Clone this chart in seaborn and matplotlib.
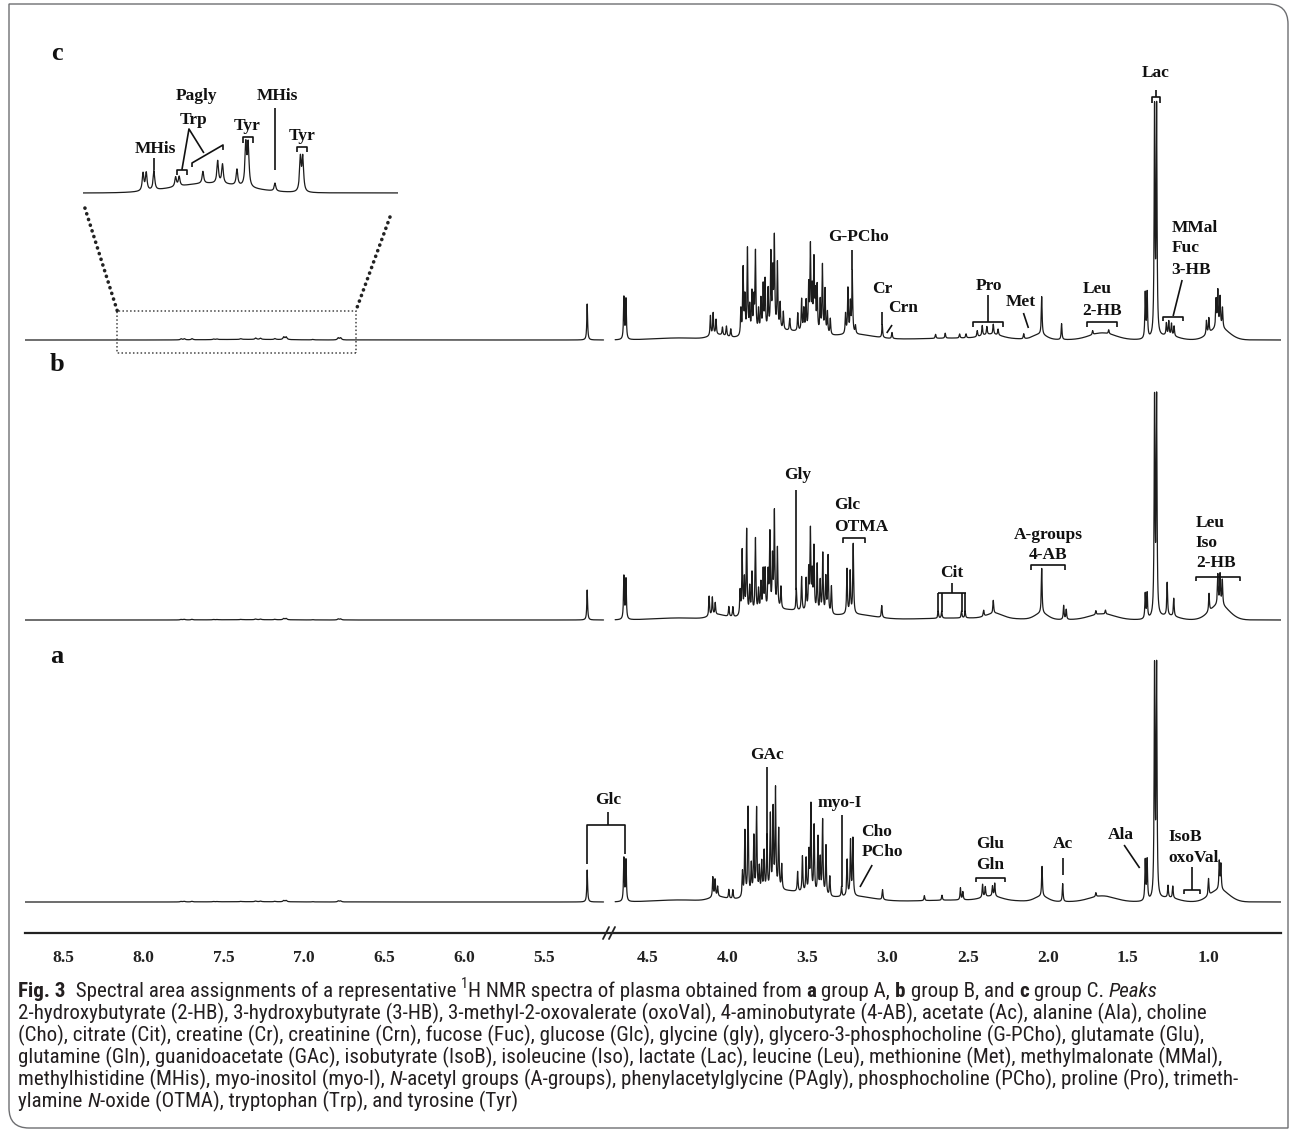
import numpy as np
import seaborn as sns
import matplotlib
matplotlib.use("Agg")
import matplotlib.pyplot as plt
from matplotlib.patches import Rectangle, ConnectionPatch, PathPatch
from matplotlib.path import Path
from matplotlib.transforms import Affine2D
from matplotlib.lines import Line2D
from matplotlib.ticker import FixedLocator
from matplotlib import font_manager

# ---- data: peak lists (ppm, height in a.u., half width) ----
# group C
c_shift = [5.232, 4.645, 4.632, 4.105, 4.088, 4.070, 4.030, 4.005, 3.978,
           3.915, 3.901, 3.890, 3.874, 3.860, 3.846, 3.834, 3.824, 3.805, 3.790,
           3.776, 3.764, 3.745, 3.728, 3.716, 3.706, 3.687, 3.670, 3.650, 3.610,
           3.560, 3.536, 3.522, 3.508, 3.492, 3.481, 3.470, 3.459, 3.450, 3.439,
           3.420, 3.406, 3.390, 3.375, 3.357, 3.262, 3.247, 3.232, 3.220, 3.200,
           3.033, 2.972, 2.700, 2.640, 2.550, 2.510, 2.440, 2.409, 2.380, 2.340,
           2.310, 2.150, 2.038, 1.914, 1.720, 1.620, 1.392, 1.380, 1.334, 1.321,
           1.260, 1.245, 1.228, 1.212, 1.010, 0.995, 0.950, 0.939, 0.925, 0.910]
c_height = [36, 42, 40, 20, 22, 15, 8, 10, 8,
            26, 66, 36, 85, 26, 40, 32, 80, 22, 32,
            45, 50, 40, 75, 55, 90, 66, 26, 18, 12,
            18, 32, 22, 30, 45, 84, 40, 70, 36, 46,
            32, 68, 44, 22, 16, 20, 45, 30, 62, 8,
            13, 6, 4, 5, 4, 4, 6, 10, 8, 10,
            6, 5, 38, 16, 4, 4, 45, 45, 225, 225,
            12, 14, 12, 10, 14, 15, 28, 36, 30, 20]
c_width = [0.003] * len(c_shift)
c_hump_shift = [4.30, 4.06, 3.65, 3.20, 2.50, 2.35, 2.05, 1.66, 1.25, 0.93]
c_hump_height = [2, 4, 9, 5, 2, 4, 5, 7, 4, 12]
c_hump_sigma = [0.15, 0.05, 0.17, 0.12, 0.30, 0.06, 0.04, 0.08, 0.06, 0.06]

# aromatic region of group C (enlarged in the inset)
arom_shift = [7.765, 7.745, 7.697, 7.562, 7.540, 7.392, 7.300, 7.270, 7.180,
              7.125, 7.110, 6.943, 6.785, 6.770]
arom_height = [1.1, 1.1, 1.2, 0.6, 0.6, 0.75, 1.4, 1.2, 1.0,
               2.6, 2.6, 0.5, 2.1, 2.1]
arom_width = [0.006] * len(arom_shift)
arom_hump_shift = [7.35]
arom_hump_height = [0.6]
arom_hump_sigma = [0.22]

# group B
b_shift = [5.232, 4.645, 4.632, 4.113, 4.093, 4.075, 3.990, 3.965,
           3.920, 3.907, 3.893, 3.879, 3.860, 3.846, 3.824, 3.805, 3.790, 3.776,
           3.764, 3.745, 3.734, 3.718, 3.706, 3.687, 3.665, 3.569,
           3.536, 3.508, 3.492, 3.481, 3.470, 3.459, 3.439, 3.420, 3.404, 3.385,
           3.371, 3.350, 3.253, 3.233, 3.214, 3.036,
           2.684, 2.662, 2.538, 2.516, 2.400, 2.340, 2.038, 1.901, 1.885,
           1.700, 1.640, 1.392, 1.380, 1.334, 1.321, 1.255, 1.214,
           0.994, 0.939, 0.925, 0.911]
b_height = [30, 43, 40, 20, 18, 12, 10, 10,
            24, 64, 34, 84, 26, 40, 74, 22, 28, 40,
            40, 36, 75, 50, 96, 60, 22, 22,
            34, 32, 40, 80, 36, 64, 48, 32, 60, 36,
            58, 28, 45, 42, 70, 12,
            7, 7, 7, 7, 6, 13, 45, 14, 10,
            4, 4, 25, 25, 215, 215, 33, 18,
            18, 30, 30, 25]
b_width = [0.003] * len(b_shift)
b_hump_shift = [4.30, 4.06, 3.65, 3.20, 2.50, 2.33, 2.04, 1.66, 1.25, 0.93]
b_hump_height = [2, 4, 10, 5, 2, 5, 6, 6, 4, 15]
b_hump_sigma = [0.15, 0.05, 0.17, 0.12, 0.30, 0.05, 0.04, 0.08, 0.06, 0.06]

# group A
a_shift = [5.232, 4.645, 4.632, 4.090, 4.076, 4.060, 3.990, 3.965,
           3.905, 3.890, 3.870, 3.850, 3.834, 3.817, 3.800, 3.785, 3.770,
           3.752, 3.731, 3.714, 3.699, 3.679, 3.660,
           3.561, 3.531, 3.508, 3.490, 3.478, 3.458, 3.434, 3.420, 3.405, 3.384,
           3.360, 3.287, 3.252, 3.231, 3.216, 3.031,
           2.770, 2.660, 2.545, 2.530, 2.407, 2.390, 2.345, 2.331, 2.036, 1.907,
           1.700, 1.392, 1.380, 1.334, 1.321, 1.250, 1.220,
           0.997, 0.930, 0.920]
a_height = [32, 43, 41, 20, 17, 10, 9, 9,
            25, 65, 88, 30, 57, 85, 25, 30, 40,
            55, 75, 80, 100, 60, 25,
            20, 36, 34, 40, 88, 68, 57, 35, 75, 50,
            20, 10, 36, 55, 57, 10,
            5, 5, 12, 8, 13, 10, 10, 13, 30, 18,
            4, 40, 40, 228, 228, 12, 12,
            17, 28, 25]
a_width = [0.003] * len(a_shift)
a_hump_shift = [4.30, 4.06, 3.65, 3.20, 2.50, 2.35, 2.04, 1.66, 1.25, 0.93]
a_hump_height = [2, 4, 11, 5, 2, 4, 5, 6, 4, 12]
a_hump_sigma = [0.15, 0.05, 0.17, 0.12, 0.30, 0.06, 0.04, 0.08, 0.06, 0.06]

major_ticks = [8.5, 8.0, 7.5, 7.0, 6.5, 6.0, 5.5, 4.5, 4.0, 3.5, 3.0, 2.5, 2.0, 1.5, 1.0]
minor_ticks = [8.25, 7.75, 7.25, 6.75, 6.25, 5.75, 5.25, 4.25, 3.75, 3.25, 2.75,
               2.25, 1.75, 1.25, 0.75]

# caption, as (text, style) pieces: "" plain, "b" bold, "i" italic, "sup" superscript
caption_lines = [
    [("Fig. 3", "b"), ("  Spectral area assignments of a representative ", ""), ("1", "sup"),
     ("H NMR spectra of plasma obtained from ", ""), ("a", "b"), (" group A, ", ""),
     ("b", "b"), (" group B, and ", ""), ("c", "b"), (" group C. ", ""), ("Peaks", "i")],
    [("2-hydroxybutyrate (2-HB), 3-hydroxybutyrate (3-HB), 3-methyl-2-oxovalerate (oxoVal), 4-aminobutyrate (4-AB), acetate (Ac), alanine (Ala), choline", "")],
    [("(Cho), citrate (Cit), creatine (Cr), creatinine (Crn), fucose (Fuc), glucose (Glc), glycine (gly), glycero-3-phosphocholine (G-PCho), glutamate (Glu),", "")],
    [("glutamine (Gln), guanidoacetate (GAc), isobutyrate (IsoB), isoleucine (Iso), lactate (Lac), leucine (Leu), methionine (Met), methylmalonate (MMal),", "")],
    [("methylhistidine (MHis), myo-inositol (myo-I), ", ""), ("N", "i"),
     ("-acetyl groups (A-groups), phenylacetylglycine (PAgly), phosphocholine (PCho), proline (Pro), trimeth-", "")],
    [("ylamine ", ""), ("N", "i"), ("-oxide (OTMA), tryptophan (Trp), and tyrosine (Tyr)", "")],
]

# ---- style ----
sns.set_style("white")
fonts = {(f.name, f.stretch) for f in font_manager.fontManager.ttflist}
names = {n for n, _ in fonts}
cap_font, cap_stretch = "Open Sans", "normal"
for cand in ("Liberation Sans Narrow", "Roboto Condensed", "Open Sans Condensed"):
    if cand in names:
        cap_font = cand
        break
else:
    if ("DejaVu Sans", "condensed") in fonts:
        cap_font, cap_stretch = "DejaVu Sans", "condensed"
serif = "Liberation Serif"
plt.rcParams["font.family"] = [serif, "DejaVu Sans"]

W, H = 1293, 1132
fig = plt.figure(figsize=(W / 100, H / 100), dpi=100)
tpx = Affine2D().scale(1 / W, -1 / H).translate(0, 1) + fig.transFigure
renderer = fig.canvas.get_renderer()


def rect(x0, y0, x1, y1):
    return [x0 / W, 1 - y1 / H, (x1 - x0) / W, (y1 - y0) / H]


# broken ppm axis: the water region is cut out
LO, HI = 4.737, 5.095


def fwd(x):
    x = np.asarray(x, float)
    return np.where(x <= LO, x, np.where(x >= HI, x - (HI - LO), LO))


def inv(u):
    u = np.asarray(u, float)
    return np.where(u <= LO, u, u + (HI - LO))


ppm = np.linspace(0.545, 8.74, 26000)


def spectrum(shift, height, width, hshift, hheight, hsigma):
    y = np.zeros_like(ppm)
    for p, h, w in zip(shift, height, width):
        y += h / (1 + ((ppm - p) / w) ** 2)
    for p, h, s in zip(hshift, hheight, hsigma):
        y += h * np.exp(-0.5 * ((ppm - p) / s) ** 2)
    return y


arom = spectrum(arom_shift, arom_height, arom_width,
                arom_hump_shift, arom_hump_height, arom_hump_sigma)
spec_c = spectrum(c_shift, c_height, c_width, c_hump_shift, c_hump_height, c_hump_sigma) + arom
spec_b = spectrum(b_shift, b_height, b_width, b_hump_shift, b_hump_height, b_hump_sigma) + 0.5 * arom
spec_a = spectrum(a_shift, a_height, a_width, a_hump_shift, a_hump_height, a_hump_sigma) + 0.5 * arom

LINE = "#1c1c1c"


def panel(y0, y1, base, spec):
    ax = fig.add_axes(rect(25, y0, 1281, y1))
    ax.patch.set_alpha(0)
    for m in (ppm <= 4.70, ppm >= 5.13):
        sns.lineplot(x=ppm[m], y=spec[m], ax=ax, color=LINE, lw=0.9,
                     estimator=None, sort=False)
    ax.set_xscale("function", functions=(fwd, inv))
    ax.set_xlim(8.74, 0.545)
    ax.set_ylim(-(y1 - base), base - y0)
    ax.axis("off")
    return ax


ax_c = panel(40, 356, 340, spec_c)
ax_b = panel(356, 636, 620, spec_b)
ax_a = panel(636, 920, 902, spec_a)

LW = 1.2


def lab(ax, x, y, s, ha="center", size=12.5):
    ax.text(x, y, s, ha=ha, va="center", fontsize=size, fontweight="bold",
            family=serif, color="#111111", clip_on=False)


def seg(ax, pts):
    xs, ys = zip(*pts)
    ax.plot(xs, ys, color="#111111", lw=LW, clip_on=False, solid_capstyle="butt")


def bracket(ax, x0, x1, y, d):
    seg(ax, [(x0, y - d), (x0, y), (x1, y), (x1, y - d)])


# ---- panel c labels ----
lab(ax_c, 3.18, 103, "G-PCho"); seg(ax_c, [(3.22, 70), (3.22, 90)])
lab(ax_c, 3.036, 51, "Cr"); seg(ax_c, [(3.033, 15), (3.033, 28)])
lab(ax_c, 2.904, 32, "Crn"); seg(ax_c, [(2.972, 15), (3.005, 7)])
lab(ax_c, 2.368, 54, "Pro"); seg(ax_c, [(2.374, 18), (2.374, 45)])
bracket(ax_c, 2.469, 2.280, 18, 5)
lab(ax_c, 2.171, 38, "Met"); seg(ax_c, [(2.152, 27), (2.121, 12)])
lab(ax_c, 1.69, 51, "Leu"); lab(ax_c, 1.66, 29, "2-HB")
bracket(ax_c, 1.753, 1.567, 18, 5)
lab(ax_c, 1.33, 267, "Lac")
bracket(ax_c, 1.352, 1.303, 243, 6); seg(ax_c, [(1.327, 243), (1.327, 250)])
lab(ax_c, 1.23, 112, "MMal", ha="left")
lab(ax_c, 1.23, 92, "Fuc", ha="left")
lab(ax_c, 1.23, 70, "3-HB", ha="left")
seg(ax_c, [(1.162, 60), (1.218, 24)])
bracket(ax_c, 1.280, 1.156, 23, 4)

# ---- panel b labels ----
lab(ax_b, 3.563, 145, "Gly"); seg(ax_b, [(3.569, 30), (3.569, 130)])
lab(ax_b, 3.335, 115, "Glc", ha="left"); lab(ax_b, 3.335, 93, "OTMA", ha="left")
bracket(ax_b, 3.275, 3.143, 82, 5)
lab(ax_b, 2.601, 47, "Cit"); seg(ax_b, [(2.597, 27), (2.597, 37)])
seg(ax_b, [(2.684, 27), (2.511, 27)])
for x in (2.684, 2.662, 2.538, 2.516):
    seg(ax_b, [(x, 27), (x, 8)])
lab(ax_b, 1.997, 85, "A-groups"); lab(ax_b, 1.997, 65, "4-AB")
bracket(ax_b, 2.107, 1.895, 55, 5)
lab(ax_b, 1.076, 97, "Leu", ha="left")
lab(ax_b, 1.076, 77, "Iso", ha="left")
lab(ax_b, 1.076, 57, "2-HB", ha="left")
bracket(ax_b, 1.076, 0.801, 43, 4)

# ---- panel a labels ----
lab(ax_a, 5.10, 102, "Glc"); seg(ax_a, [(5.10, 77), (5.10, 90)])
seg(ax_a, [(5.232, 38), (5.232, 77), (4.638, 77), (4.638, 48)])
lab(ax_a, 3.752, 147, "GAc"); seg(ax_a, [(3.752, 62), (3.752, 135)])
lab(ax_a, 3.296, 99, "myo-I"); seg(ax_a, [(3.287, 15), (3.287, 87)])
lab(ax_a, 3.163, 70, "Cho", ha="left"); lab(ax_a, 3.163, 50, "PCho", ha="left")
seg(ax_a, [(3.096, 37), (3.172, 15)])
lab(ax_a, 2.36, 58, "Glu"); lab(ax_a, 2.36, 37, "Gln")
bracket(ax_a, 2.448, 2.266, 24, 4)
lab(ax_a, 1.907, 58, "Ac"); seg(ax_a, [(1.907, 27), (1.907, 44)])
lab(ax_a, 1.545, 67, "Ala"); seg(ax_a, [(1.524, 57), (1.427, 34)])
lab(ax_a, 1.25, 65, "IsoB", ha="left"); lab(ax_a, 1.25, 44, "oxoVal", ha="left")
seg(ax_a, [(1.103, 12), (1.103, 35)])
bracket(ax_a, 1.153, 1.053, 12, 4)

# ---- inset: aromatic region of group C ----
ax_in = fig.add_axes(rect(83, 80, 398, 205))
ax_in.patch.set_alpha(0)
m = (ppm > 6.0) & (ppm < 8.3)
sns.lineplot(x=ppm[m], y=spec_c[m], ax=ax_in, color=LINE, lw=0.9,
             estimator=None, sort=False)
ax_in.set_xlim(8.139, 6.177)
ax_in.set_ylim(-0.75, 7.06)
ax_in.axis("off")

lab(ax_in, 7.691, 2.75, "MHis"); seg(ax_in, [(7.697, 1.45), (7.697, 2.2)])
lab(ax_in, 7.429, 6.06, "Pagly"); lab(ax_in, 7.448, 4.56, "Trp")
seg(ax_in, [(7.523, 1.44), (7.479, 4.0), (7.386, 2.5)])
bracket(ax_in, 7.554, 7.491, 1.44, 0.32)
seg(ax_in, [(7.460, 1.625), (7.460, 1.875), (7.267, 3.0), (7.267, 2.69)])
lab(ax_in, 7.118, 4.19, "Tyr"); bracket(ax_in, 7.143, 7.081, 3.5, 0.38)
lab(ax_in, 6.931, 6.06, "MHis"); seg(ax_in, [(6.944, 1.44), (6.944, 5.31)])
lab(ax_in, 6.775, 3.56, "Tyr"); bracket(ax_in, 6.806, 6.744, 2.875, 0.32)

# dotted zoom box on spectrum c and the connectors to the inset
ax_c.add_patch(Rectangle((6.676, -13), 8.164 - 6.676, 42, fill=False,
                         ls=(0, (1, 1.5)), lw=1.1, ec="#444444", clip_on=False))
for pa, pb in (((8.127, -0.94), (8.164, 29)), ((6.227, -1.5), (6.676, 29))):
    con = ConnectionPatch(xyA=pa, coordsA=ax_in.transData, xyB=pb,
                          coordsB=ax_c.transData, ls=(0, (0.05, 1.6)),
                          lw=2.6, color="#222222")
    con.set_capstyle("round")
    fig.add_artist(con)

# ---- ppm scale at the bottom ----
ax_s = fig.add_axes(rect(25, 926, 1281, 933))
ax_s.patch.set_alpha(0)
ax_s.set_xscale("function", functions=(fwd, inv))
ax_s.set_xlim(8.74, 0.545)
ax_s.set_yticks([])
for s in ("left", "right", "top"):
    ax_s.spines[s].set_visible(False)
ax_s.spines["bottom"].set_linewidth(1.6)
ax_s.spines["bottom"].set_color("#222222")
ax_s.xaxis.set_major_locator(FixedLocator(major_ticks))
ax_s.xaxis.set_minor_locator(FixedLocator(minor_ticks))
ax_s.set_xticklabels(["%.1f" % t for t in major_ticks])
ax_s.tick_params(axis="x", which="major", direction="out", length=5, width=1.2,
                 pad=7, labelsize=12.5, colors="#222222")
ax_s.tick_params(axis="x", which="minor", direction="out", length=3, width=1.2,
                 colors="#222222")
for lbl in ax_s.get_xticklabels():
    lbl.set_fontweight("bold")
    lbl.set_family(serif)
for x0 in (603, 609):
    fig.add_artist(Line2D([x0, x0 + 6], [939, 927], transform=tpx, color="#222222", lw=1.3))

# ---- panel letters ----
for s, yb in (("c", 60), ("b", 371), ("a", 663)):
    fig.text(57, yb, s, transform=tpx, ha="center", va="baseline", fontsize=19,
             fontweight="bold", family=serif, color="#111111")


# ---- caption: pieces laid out one after the other ----
def piece_kw(style, size):
    kw = dict(family=cap_font, fontstretch=cap_stretch, color="#231f20", fontsize=size)
    if style == "b":
        kw["fontweight"] = "bold"
    elif style == "i":
        kw["fontstyle"] = "italic"
    elif style == "sup":
        kw["fontsize"] = size * 0.68
    return kw


def advance(s, kw):
    t1 = fig.text(0, 0, s + "x", **kw)
    t2 = fig.text(0, 0, "x", **kw)
    w = t1.get_window_extent(renderer).width - t2.get_window_extent(renderer).width
    t1.remove()
    t2.remove()
    return w


probe_w = advance(caption_lines[1][0][0], piece_kw("", 12))
cap_size = 12 * 1187 / probe_w
cap_base = [997, 1019, 1041, 1063, 1085, 1107]
for parts, yb in zip(caption_lines, cap_base):
    x = 18
    for s, style in parts:
        kw = piece_kw(style, cap_size)
        y = yb - (0.45 * cap_size * 100 / 72 if style == "sup" else 0)
        fig.text(x, y, s, transform=tpx, ha="left", va="baseline", **kw)
        x += advance(s, kw)

# outer frame with rounded corners (top right, bottom left)
verts = [(9, 4), (1268, 4), (1288, 4), (1288, 24), (1288, 1128), (29, 1128),
         (9, 1128), (9, 1108), (9, 4)]
codes = [Path.MOVETO, Path.LINETO, Path.CURVE3, Path.CURVE3, Path.LINETO,
         Path.LINETO, Path.CURVE3, Path.CURVE3, Path.CLOSEPOLY]
fig.add_artist(PathPatch(Path(verts, codes), transform=tpx, fill=False,
                         ec="#6d6e71", lw=1.0))

fig.savefig("out.png", dpi=100)
